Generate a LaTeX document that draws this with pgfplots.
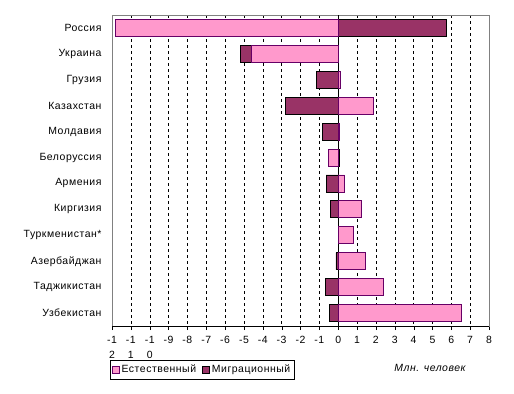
\documentclass[border=0pt]{standalone}
\usepackage{pgfplots}
\pgfplotsset{compat=1.18}
\usepackage{pgfplotstable}
\usepackage{fontspec}
\setmainfont{Liberation Sans}[LetterSpace=5]
\definecolor{nat}{HTML}{FF99CC}
\definecolor{natb}{HTML}{660066}
\definecolor{mig}{HTML}{993366}
\pgfplotstableread{
idx nat mig
0 -11.83 5.75
1 -4.58 -0.62
2 0.13 -1.16
3 1.88 -2.81
4 0.07 -0.85
5 -0.53 0.06
6 0.34 -0.64
7 1.24 -0.42
8 0.82 0
9 1.45 -0.12
10 2.41 -0.69
11 6.55 -0.48
}\datatab
\begin{document}
\begin{tikzpicture}
\useasboundingbox (-112bp,-68bp) rectangle (402bp,326bp);
\begin{axis}[
  scale only axis, width=377bp, height=311bp,
  font=\fontsize{10.5}{12}\selectfont,
  xbar stacked, stack negative=separate, bar width=17bp,
  xmin=-12, xmax=8, ymin=-0.5, ymax=11.5, y dir=reverse,
  xtick={-12,-11,...,8},
  xticklabels={{-1\\2},{-1\\1},{-1\\0},-9,-8,-7,-6,-5,-4,-3,-2,-1,0,1,2,3,4,5,6,7,8},
  xticklabel style={align=center, font=\fontsize{10.5}{14.5}\selectfont, yshift=-3bp},
  xtick align=outside, xtick pos=bottom, major tick length=4bp,
  xtick style={black},
  ytick={0,...,11},
  yticklabels={Россия,Украина,Грузия,Казахстан,Молдавия,Белоруссия,Армения,Киргизия,Туркменистан*,Азербайджан,Таджикистан,Узбекистан},
  ytick style={draw=none},
  yticklabel style={xshift=-7bp},
  xmajorgrids, grid style={black, dash pattern=on 3bp off 3bp},
  axis line style={gray},
  legend columns=2,
  legend style={at={(-0.005,-0.109)}, anchor=north west, draw=black, font=\fontsize{10.5}{12}\selectfont,
    inner xsep=1.5bp, inner ysep=3bp, /tikz/every even column/.append style={column sep=4bp}},
  legend image code/.code={\draw[#1] (0bp,-3.5bp) rectangle (7bp,3.5bp);},
]
\addplot[fill=nat, draw=natb, line width=0.8bp] table[x=nat, y=idx] {\datatab};
\addlegendentry{Естественный}
\addplot[fill=mig, draw=black, line width=0.8bp] table[x=mig, y=idx] {\datatab};
\addlegendentry{Миграционный}
\draw[black, line width=1bp] (axis cs:0,-0.5) -- (axis cs:0,11.5);
\draw[black] (rel axis cs:0,0) -- (rel axis cs:1,0);
\end{axis}
\node[font=\fontsize{10.5}{12}\selectfont\itshape] at (318bp,-42bp) {Млн. человек};
\end{tikzpicture}
\end{document}
